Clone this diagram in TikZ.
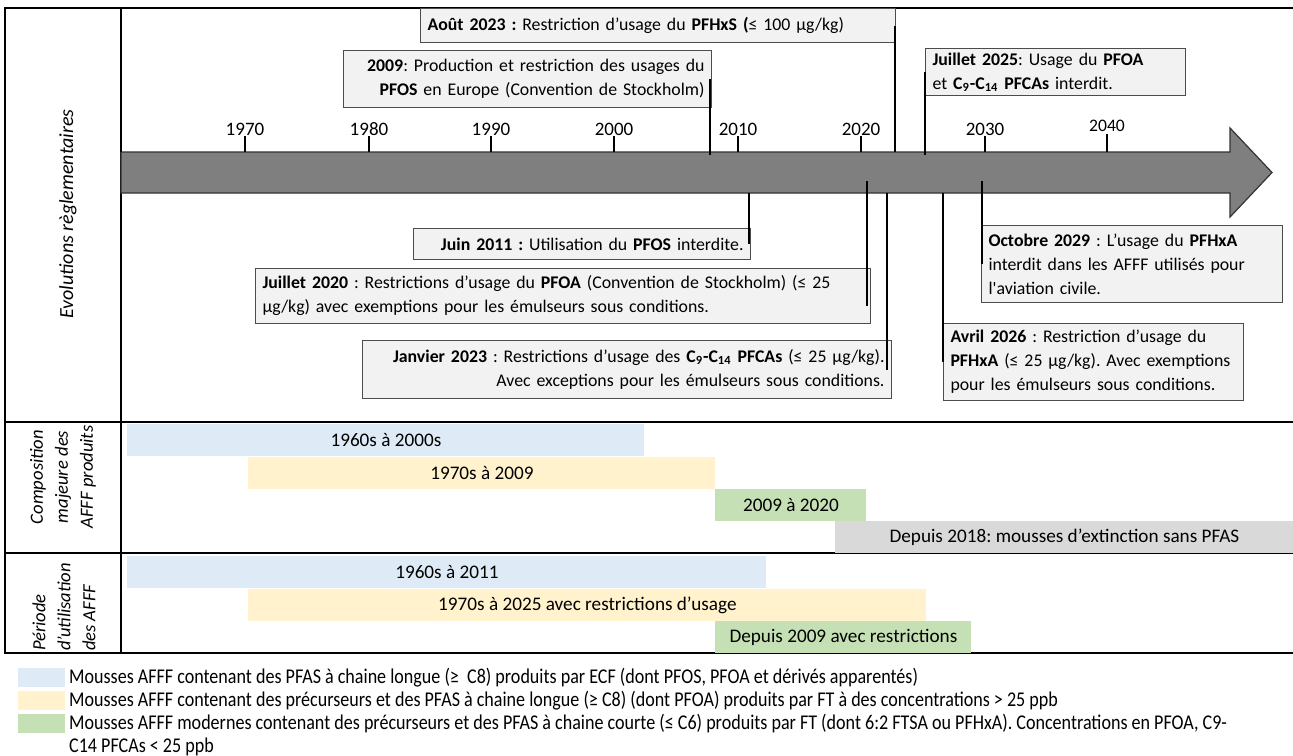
\documentclass[tikz,border=0pt]{standalone}
\usepackage{fontspec}
\setmainfont{Carlito}
\newfontfamily\legfont{Carlito}[FakeStretch=0.86]
\usetikzlibrary{positioning,calc}
\definecolor{evtfill}{HTML}{F2F2F2}
\definecolor{arrowgray}{HTML}{7F7F7F}
\definecolor{ecfblue}{HTML}{DEEBF7}
\definecolor{ftyellow}{HTML}{FFF2CC}
\definecolor{modgreen}{HTML}{C5E0B4}
\definecolor{freegray}{HTML}{D9D9D9}

\begin{document}
\frenchspacing
\begin{tikzpicture}[x=0.5pt,y=-0.5pt]
\tikzset{evt/.style={draw=black!70,fill=evtfill,line width=0.5pt,anchor=north west,inner xsep=3.5pt,inner ysep=1pt,font=\fontsize{8.9}{12}\selectfont},
  link/.style={line width=1.1pt},
  bar/.style={anchor=north west,inner sep=0pt,minimum height=16pt,font=\fontsize{9.6}{11}\selectfont},
  side/.style={rotate=90,inner sep=0pt,font=\fontsize{9.3}{12.5}\selectfont\itshape},
  year/.style={font=\fontsize{9.5}{11}\selectfont,anchor=base,inner sep=0pt},
  swatch/.style={minimum width=23.5pt,minimum height=9.5pt,inner sep=0pt,anchor=north west},
  legtxt/.style={font=\legfont\fontsize{10.5}{11.2}\selectfont,align=left,inner sep=0pt}}
\useasboundingbox (0,0) rectangle (1293,755);
\draw[line width=0.6pt] (1293,8) -- (5,8) -- (5,653) -- (1293,653);
\draw[line width=0.6pt] (121,8) -- (121,653);
\draw[line width=1.3pt] (5,422) -- (1293,422);
\draw[line width=0.6pt] (5,553) -- (1293,553);
\node[side,font=\fontsize{10}{12.5}\selectfont\itshape] (lreg) at (68,214) {Evolutions règlementaires};
\node[side,align=center] (lcomp) at (63,477) {Composition\\majeure des\\AFFF produits};
\node[side,align=left] (luse) at (64,607) {Période\\d'utilisation\\des AFFF};
% frise
\draw[fill=arrowgray,draw=black!80,line width=0.6pt] (121,152) -- (1230,152) -- (1230,128) -- (1272,172.5) -- (1230,217) -- (1230,193) -- (121,193) -- cycle;
\draw[line width=1.1pt] (121,144) -- (121,152);
\foreach \yr/\x in {1970/245,1980/369,1990/491,2000/614,2010/738,2020/861,2030/985}{
  \draw[line width=1.1pt] (\x,136) -- (\x,152);
  \node[year] (y\yr) at (\x,135) {\yr};
}
\draw[line width=1.1pt] (1107,134) -- (1107,152);
\node[year,font=\fontsize{8.8}{10}\selectfont] (y2040) at (1107,131) {2040};
\coordinate (t2009) at (710,155);
\coordinate (t2023a) at (895,152);
\coordinate (t2025) at (925,155);
\coordinate (t2011) at (749,193);
\coordinate (t2020) at (867,181);
\coordinate (t2023j) at (887,193);
\coordinate (t2029) at (982,181);
\coordinate (t2026) at (943,193);
% evenements
\node[evt,text width=230.5pt,minimum height=17pt,align=left] (b2023a) at (420,8) {\textbf{Août 2023 :} Restriction d’usage du \textbf{PFHxS (}≤ 100 µg/kg)};
\node[evt,text width=177pt,minimum height=28.5pt,align=right] (b2009) at (343,50) {\textbf{2009}: Production et restriction des usages du\\\textbf{PFOS} en Europe (Convention de Stockholm)};
\node[evt,text width=123pt,minimum height=23.5pt,align=left] (b2025) at (925,48) {\textbf{Juillet 2025}: Usage du \textbf{PFOA}\\et \textbf{C\textsubscript{9}-C\textsubscript{14} PFCAs} interdit.};
\node[evt,text width=161.5pt,minimum height=15.5pt,align=right] (b2011) at (413,228) {\textbf{Juin 2011 :} Utilisation du \textbf{PFOS} interdite.};
\node[evt,text width=300.5pt,minimum height=27.5pt,align=left] (b2020) at (255,268) {\textbf{Juillet 2020} : Restrictions d’usage du \textbf{PFOA} (Convention de Stockholm) (≤ 25\\µg/kg) avec exemptions pour les émulseurs sous conditions.};
\node[evt,text width=257.5pt,minimum height=29pt,align=right] (b2023j) at (362,340) {\textbf{Janvier 2023} : Restrictions d’usage des \textbf{C\textsubscript{9}-C\textsubscript{14} PFCAs} (≤ 25 µg/kg).\\Avec exceptions pour les émulseurs sous conditions.};
\node[evt,text width=143.5pt,minimum height=38.5pt,align=left] (b2029) at (981,225) {\textbf{Octobre 2029} : L’usage du \textbf{PFHxA}\\interdit dans les AFFF utilisés pour\\l\textquotesingle aviation civile.};
\node[evt,text width=143pt,minimum height=38.5pt,align=left] (b2026) at (943,323) {\textbf{Avril 2026} : Restriction d’usage du\\\textbf{PFHxA} (≤ 25 µg/kg). Avec exemptions\\pour les émulseurs sous conditions.};
\draw[link] (t2009) -- (t2009 |- b2009.east);
\draw[link] (t2023a) -- (t2023a |- b2023a.east);
\draw[link] (t2025) -- (t2025 |- b2025.west);
\draw[link] (t2011) -- (t2011 |- b2011.east);
\draw[link] (t2020) -- ($(t2020 |- b2020.east)+(0,10)$);
\draw[link] (t2023j) -- (t2023j |- b2023j.east);
\draw[link] (t2029) -- (t2029 |- b2029.west);
\draw[link] (t2026) -- (t2026 |- b2026.west);
% barres
\node[bar,fill=ecfblue,minimum width=258.5pt] (c1) at (127,424) {1960s à 2000s};
\node[bar,fill=ftyellow,minimum width=233.5pt] (c2) at (248,457) {1970s à 2009};
\node[bar,fill=modgreen,minimum width=75.5pt] (c3) at (715,489) {2009 à 2020};
\node[bar,fill=freegray,minimum width=229pt] (c4) at (835,521) {Depuis 2018: mousses d’extinction sans PFAS};
\node[bar,fill=ecfblue,minimum width=319.5pt] (p1) at (127,556) {1960s à 2011};
\node[bar,fill=ftyellow,minimum width=339pt] (p2) at (248,589) {1970s à 2025 avec restrictions d’usage};
\node[bar,fill=modgreen,minimum width=128pt] (p3) at (715,621) {Depuis 2009 avec restrictions};
% legende
\node[swatch,fill=ecfblue] (k1) at (18,668) {};
\node[swatch,fill=ftyellow] (k2) at (18,691) {};
\node[swatch,fill=modgreen] (k3) at (18,714) {};
\node[legtxt,right=1.5pt of k1] (l1) {Mousses AFFF contenant des PFAS à chaine longue (≥~ C8) produits par ECF (dont PFOS, PFOA et dérivés apparentés)};
\node[legtxt,right=1.5pt of k2] (l2) {Mousses AFFF contenant des précurseurs et des PFAS à chaine longue (≥ C8) (dont PFOA) produits par FT à des concentrations > 25 ppb};
\node[legtxt,right=1.5pt of k3.north east,anchor=north west] (l3) {Mousses AFFF modernes contenant des précurseurs et des PFAS à chaine courte (≤ C6) produits par FT (dont 6:2 FTSA ou PFHxA). Concentrations en PFOA, C9-\\C14 PFCAs < 25 ppb};
\end{tikzpicture}
\end{document}
